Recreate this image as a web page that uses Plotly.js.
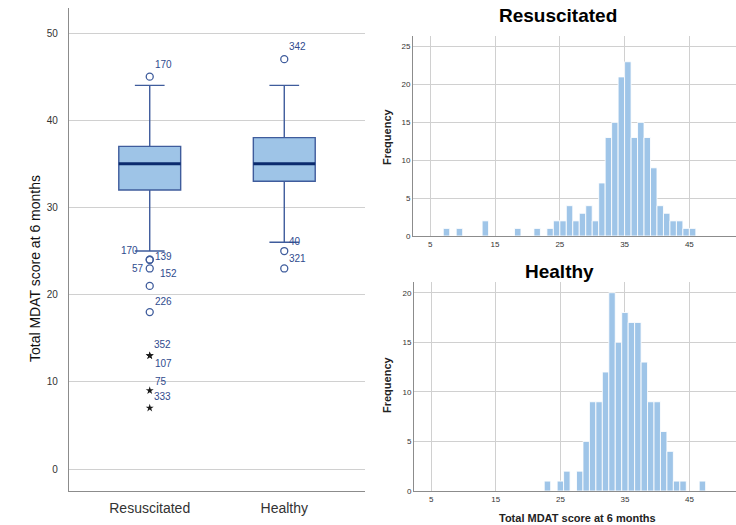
<!DOCTYPE html>
<html>
<head>
<meta charset="utf-8">
<script src="https://cdn.plot.ly/plotly-3.0.1.min.js"></script>
<style>html,body{margin:0;padding:0;background:#fff;}#chart{width:736px;height:525px;}</style>
</head>
<body>
<div id="chart"></div>
<script>
// ---------------- DATA ----------------
const categories = ['Resuscitated', 'Healthy'];
const q1Values = [32, 33];
const medianValues = [35, 35];
const q3Values = [37, 38];
const lowerWhiskers = [25, 26];
const upperWhiskers = [44, 44];

const resOutlierValues = [45, 24, 24, 23, 21, 18];
const resOutlierIds = ['170', '170', '139', '57', '152', '226'];
const resExtremeValues = [13, 13, 9, 7];
const resExtremeIds = ['352', '107', '75', '333'];
const healthyOutlierValues = [47, 25, 23];
const healthyOutlierIds = ['342', '40', '321'];

const resScores = [7, 9, 13, 18, 21, 23, 24, 25, 26, 27, 28, 29, 30, 31, 32, 33, 34, 35, 36, 37, 38, 39, 40, 41, 42, 43, 44, 45];
const resCounts = [1, 1, 2, 1, 1, 1, 2, 2, 4, 2, 3, 4, 2, 7, 13, 15, 21, 23, 13, 15, 13, 9, 4, 3, 2, 2, 1, 1];
const healthyScores = [23, 25, 26, 28, 29, 30, 31, 32, 33, 34, 35, 36, 37, 38, 39, 40, 41, 42, 43, 44, 47];
const healthyCounts = [1, 1, 2, 2, 5, 9, 9, 12, 20, 15, 18, 17, 17, 13, 9, 9, 6, 4, 1, 1, 1];

const boxYTicks = [0, 10, 20, 30, 40, 50];
const histXTicks = [5, 15, 25, 35, 45];
const histTopYTicks = [0, 5, 10, 15, 20, 25];
const histBottomYTicks = [0, 5, 10, 15, 20];

const axisTitle = 'Total MDAT score at 6 months';
const freqTitle = 'Frequency';

// ---------------- STYLE ----------------
const FONT = 'Arial, "Liberation Sans", sans-serif';
const boxFill = '#9ec4e7';
const boxLine = '#3f5c9c';
const medianColor = '#0b2b6e';
const labelColor = '#2f4b8e';
const barColor = '#9fc5e8';
const gridColor = '#d0d0d0';
const axisColor = '#8c8c8c';
const boxWidth = 0.46;

// label placement (style) for each outlier label
const resOutlierLabelStyle = [
  {xanchor: 'left', xshift: 3, yshift: 12},
  {xanchor: 'right', xshift: -10, yshift: 9},
  {xanchor: 'left', xshift: 3, yshift: 3},
  {xanchor: 'right', xshift: -4, yshift: 0},
  {xanchor: 'left', xshift: 8, yshift: 12},
  {xanchor: 'left', xshift: 3, yshift: 11}
];
const resExtremeLabelStyle = [
  {xanchor: 'left', xshift: 2, yshift: 11},
  {xanchor: 'left', xshift: 3, yshift: -8},
  {xanchor: 'left', xshift: 3, yshift: 9},
  {xanchor: 'left', xshift: 2, yshift: 11}
];
const healthyOutlierLabelStyle = [
  {xanchor: 'left', xshift: 3, yshift: 13},
  {xanchor: 'left', xshift: 3, yshift: 10},
  {xanchor: 'left', xshift: 3, yshift: 10}
];

// ---------------- TRACES ----------------
const traces = [];
categories.forEach((c, i) => {
  traces.push({
    type: 'box', name: c, x: [i],
    q1: [q1Values[i]], median: [medianValues[i]], q3: [q3Values[i]],
    lowerfence: [lowerWhiskers[i]], upperfence: [upperWhiskers[i]],
    width: boxWidth, whiskerwidth: 0.48,
    fillcolor: boxFill, line: {color: boxLine, width: 1.4},
    boxpoints: false, hoverinfo: 'skip', showlegend: false,
    xaxis: 'x', yaxis: 'y'
  });
});

traces.push({
  type: 'scatter', mode: 'markers', x: resOutlierValues.map(() => 0), y: resOutlierValues,
  marker: {symbol: 'circle-open', size: 7, color: boxLine, line: {width: 1.3}},
  showlegend: false, hoverinfo: 'skip', xaxis: 'x', yaxis: 'y'
});
traces.push({
  type: 'scatter', mode: 'markers', x: healthyOutlierValues.map(() => 1), y: healthyOutlierValues,
  marker: {symbol: 'circle-open', size: 7, color: boxLine, line: {width: 1.3}},
  showlegend: false, hoverinfo: 'skip', xaxis: 'x', yaxis: 'y'
});
traces.push({
  type: 'scatter', mode: 'markers', x: resExtremeValues.map(() => 0), y: resExtremeValues,
  marker: {symbol: 'star', size: 6, color: '#1a1a1a'},
  showlegend: false, hoverinfo: 'skip', xaxis: 'x', yaxis: 'y'
});

traces.push({
  type: 'bar', x: resScores, y: resCounts, width: 1, offset: 0,
  marker: {color: barColor, line: {color: 'rgba(255,255,255,0.85)', width: 1}},
  showlegend: false, hoverinfo: 'skip', xaxis: 'x2', yaxis: 'y2'
});
traces.push({
  type: 'bar', x: healthyScores, y: healthyCounts, width: 1, offset: -0.5,
  marker: {color: barColor, line: {color: 'rgba(255,255,255,0.85)', width: 1}},
  showlegend: false, hoverinfo: 'skip', xaxis: 'x3', yaxis: 'y3'
});

// ---------------- ANNOTATIONS / SHAPES ----------------
const annotations = [];
function addLabels(ids, values, styles, idx) {
  ids.forEach((id, k) => {
    annotations.push({
      xref: 'x', yref: 'y', x: idx, y: values[k], text: id, showarrow: false,
      xanchor: styles[k].xanchor, yanchor: 'middle',
      xshift: styles[k].xshift, yshift: styles[k].yshift,
      font: {family: FONT, size: 10, color: labelColor}
    });
  });
}
addLabels(resOutlierIds, resOutlierValues, resOutlierLabelStyle, 0);
addLabels(resExtremeIds, resExtremeValues, resExtremeLabelStyle, 0);
addLabels(healthyOutlierIds, healthyOutlierValues, healthyOutlierLabelStyle, 1);

annotations.push({xref: 'paper', yref: 'paper', x: 35 / 736, y: (525 - 269) / 525,
  text: axisTitle, textangle: -90, showarrow: false, xanchor: 'center', yanchor: 'middle',
  font: {family: FONT, size: 14, color: '#111'}});
annotations.push({xref: 'paper', yref: 'paper', x: 558 / 736, y: (525 - 15) / 525,
  text: '<b>' + categories[0] + '</b>', showarrow: false, xanchor: 'center', yanchor: 'middle',
  font: {family: FONT, size: 19, color: '#000'}});
annotations.push({xref: 'paper', yref: 'paper', x: 559 / 736, y: (525 - 271) / 525,
  text: '<b>' + categories[1] + '</b>', showarrow: false, xanchor: 'center', yanchor: 'middle',
  font: {family: FONT, size: 19, color: '#000'}});
annotations.push({xref: 'paper', yref: 'paper', x: 387 / 736, y: (525 - 137) / 525,
  text: '<b>' + freqTitle + '</b>', textangle: -90, showarrow: false, xanchor: 'center', yanchor: 'middle',
  font: {family: FONT, size: 11, color: '#222'}});
annotations.push({xref: 'paper', yref: 'paper', x: 387 / 736, y: (525 - 385) / 525,
  text: '<b>' + freqTitle + '</b>', textangle: -90, showarrow: false, xanchor: 'center', yanchor: 'middle',
  font: {family: FONT, size: 11, color: '#222'}});
annotations.push({xref: 'paper', yref: 'paper', x: 577 / 736, y: (525 - 518) / 525,
  text: '<b>' + axisTitle + '</b>', showarrow: false, xanchor: 'center', yanchor: 'middle',
  font: {family: FONT, size: 11, color: '#222'}});

const shapes = medianValues.map((m, i) => ({
  type: 'line', xref: 'x', yref: 'y', x0: i - boxWidth / 2, x1: i + boxWidth / 2, y0: m, y1: m,
  line: {color: medianColor, width: 3}
}));

// ---------------- LAYOUT ----------------
const histX = {
  range: [2.33, 52.2], tickvals: histXTicks, showgrid: true, gridcolor: gridColor, gridwidth: 1,
  zeroline: false, showline: true, linecolor: axisColor, linewidth: 1, ticks: '',
  tickfont: {family: FONT, size: 8, color: '#333'}, fixedrange: true
};
const layout = {
  width: 736, height: 525, margin: {l: 0, r: 0, t: 0, b: 0},
  paper_bgcolor: '#fff', plot_bgcolor: '#fff', showlegend: false, bargap: 0,
  font: {family: FONT},
  xaxis: {
    domain: [69 / 736, 365 / 736], range: [-0.6, 1.6], tickvals: [0, 1], ticktext: categories,
    showgrid: false, zeroline: false, showline: true, linecolor: axisColor, linewidth: 1.2, ticks: '',
    tickfont: {family: FONT, size: 14, color: '#333'}, ticklabelstandoff: 4
  },
  yaxis: {
    domain: [(525 - 491) / 525, (525 - 8) / 525], range: [-2.52, 52.87], tickvals: boxYTicks,
    showgrid: true, gridcolor: gridColor, zeroline: false, showline: true, linecolor: axisColor, linewidth: 1.2,
    ticks: '', tickfont: {family: FONT, size: 10, color: '#333'}, ticklabelstandoff: 8
  },
  xaxis2: Object.assign({}, histX, {domain: [413 / 736, 1], anchor: 'y2'}),
  yaxis2: {
    domain: [(525 - 236) / 525, (525 - 36) / 525], range: [0, 26.4], tickvals: histTopYTicks, anchor: 'x2',
    showgrid: true, gridcolor: gridColor, zeroline: false, showline: true, linecolor: axisColor, linewidth: 1,
    ticks: '', tickfont: {family: FONT, size: 8, color: '#333'}
  },
  xaxis3: Object.assign({}, histX, {domain: [414 / 736, 1], anchor: 'y3'}),
  yaxis3: {
    domain: [(525 - 491) / 525, (525 - 282) / 525], range: [0, 21.08], tickvals: histBottomYTicks, anchor: 'x3',
    showgrid: true, gridcolor: gridColor, zeroline: false, showline: true, linecolor: axisColor, linewidth: 1,
    ticks: '', tickfont: {family: FONT, size: 8, color: '#333'}
  },
  annotations: annotations,
  shapes: shapes
};

Plotly.newPlot('chart', traces, layout, {displayModeBar: false, staticPlot: true});
</script>
</body>
</html>
